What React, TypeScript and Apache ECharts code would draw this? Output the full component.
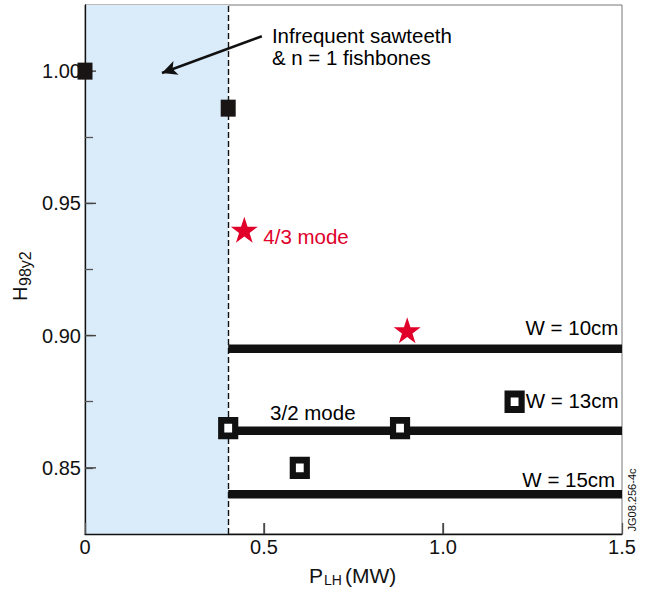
import React, { useEffect, useRef } from "react";
import * as echarts from "echarts";

const xRange = [0, 1.5];
const xInterval = 0.5;
const xInnerTicks = [0.5, 1.0];
const yRange = [0.825, 1.025];
const yTickStep = 0.025;
const yLabelStep = 0.05;
const yMajorTicks = [0.85, 0.9, 0.95, 1.0];
const shadeRange = [0, 0.4];
const thresholdX = 0.4;

const filledSquares = [
  [0, 1.0],
  [0.4, 0.986],
];
const openSquares = [
  [0.4, 0.865],
  [0.88, 0.865],
  [0.6, 0.85],
  [1.2, 0.875],
];
const stars = [
  [0.445, 0.94],
  [0.9, 0.902],
];
const w10Line = [
  [0.4, 0.895],
  [1.5, 0.895],
];
const w13Line = [
  [0.4, 0.864],
  [1.5, 0.864],
];
const w15Line = [
  [0.4, 0.84],
  [1.5, 0.84],
];
const annotations = [
  { text: "W = 10cm", x: 1.49, y: 0.903, align: "right", color: "#000" },
  { text: "W = 13cm", x: 1.231, y: 0.8753, align: "left", color: "#000" },
  { text: "W = 15cm", x: 1.481, y: 0.8456, align: "right", color: "#000" },
  { text: "3/2 mode", x: 0.517, y: 0.8711, align: "left", color: "#000" },
  { text: "4/3 mode", x: 0.498, y: 0.9375, align: "left", color: "#e0002a" },
  { text: "Infrequent sawteeth", x: 0.522, y: 1.0133, align: "left", color: "#000" },
  { text: "& n = 1 fishbones", x: 0.522, y: 1.0053, align: "left", color: "#000" },
];
const arrowFrom = [0.494, 1.0132];
const arrowTo = [0.215, 0.9993];

const STAR =
  "path://M50,0 L61.8,35.1 L98.9,35.1 L69,57.3 L80.3,92.7 L50,70.5 L19.7,92.7 L31,57.3 L1.1,35.1 L38.2,35.1 Z";
const FONT = "'Liberation Sans', Arial, Helvetica, sans-serif";

const CHART_W = 648;
const CHART_H = 590;
const GRID = { left: 85, right: 26, top: 5, bottom: 56 };
const TICK_PX = 11;

export default function App() {
  const ref = useRef<HTMLDivElement>(null);
  useEffect(() => {
    if (!ref.current) return;
    const chart = echarts.init(ref.current, null, { renderer: "svg" });
    const lineSeries = (data: number[][], name: string) => ({
      type: "line",
      name,
      data,
      symbol: "none",
      silent: true,
      z: 3,
      lineStyle: { color: "#111", width: 8.5, cap: "butt" },
    });
    const isMajor = (v: number) =>
      Math.abs(v / yLabelStep - Math.round(v / yLabelStep)) < 1e-6;
    const textEl = (
      id: string,
      x: number,
      y: number,
      text: string,
      fontSize: number,
      extra: any = {}
    ) => ({
      type: "text",
      id,
      x,
      y,
      ...extra,
      style: {
        text,
        fontSize,
        fontFamily: FONT,
        fill: "#111",
        align: extra.align || "left",
        verticalAlign: "middle",
      },
    });
    const baseGraphic: any[] = [
      {
        type: "group",
        id: "ytitle",
        x: 20,
        y: 301,
        rotation: Math.PI / 2,
        children: [
          textEl("yH", 0, 0, "H", 20),
          textEl("ySub", 15, 5, "98y2", 16),
        ],
      },
      textEl("xP", 309, 575, "P", 21),
      textEl("xSub", 324, 580, "LH", 14),
      textEl("xUnit", 345, 575, "(MW)", 21),
      textEl("jg", 632, 500, "JG08.256-4c", 11, {
        rotation: Math.PI / 2,
        align: "center",
      }),
    ];
    const option: any = {
      animation: false,
      backgroundColor: "#fff",
      textStyle: { fontFamily: FONT },
      grid: {
        ...GRID,
        containLabel: false,
        show: true,
        borderColor: "#777",
        borderWidth: 1,
        backgroundColor: "rgba(0,0,0,0)",
      },
      xAxis: {
        type: "value",
        position: "bottom",
        z: 2,
        min: xRange[0],
        max: xRange[1],
        interval: xInterval,
        splitLine: { show: false },
        axisLine: { show: true, onZero: false, lineStyle: { color: "#111", width: 1.3 } },
        axisTick: {
          show: true,
          inside: true,
          length: TICK_PX,
          lineStyle: { color: "#555", width: 1.3 },
        },
        axisLabel: {
          margin: 3,
          fontSize: 20,
          color: "#111",
          fontFamily: FONT,
          formatter: (v: number) => (v === 0 ? "0" : v.toFixed(1)),
        },
      },
      yAxis: {
        type: "value",
        z: 2,
        min: yRange[0],
        max: yRange[1],
        interval: yTickStep,
        splitLine: { show: false },
        axisLine: { show: true, onZero: false, lineStyle: { color: "#111", width: 1.3 } },
        axisTick: {
          show: true,
          inside: true,
          length: 8,
          lineStyle: { color: "#555", width: 1.3 },
        },
        axisLabel: {
          margin: 4,
          fontSize: 20,
          color: "#111",
          fontFamily: FONT,
          showMinLabel: false,
          showMaxLabel: false,
          formatter: (v: number) => (isMajor(v) ? v.toFixed(2) : ""),
        },
      },
      series: [
        {
          type: "line",
          name: "bg",
          data: [],
          symbol: "none",
          silent: true,
          z: 1,
          markArea: {
            silent: true,
            itemStyle: { color: "#daecfa" },
            data: [[{ xAxis: shadeRange[0] }, { xAxis: shadeRange[1] }]],
          },
        },
        {
          type: "line",
          name: "threshold",
          data: [],
          symbol: "none",
          silent: true,
          z: 3,
          markLine: {
            silent: true,
            symbol: "none",
            label: { show: false },
            lineStyle: { color: "#111", width: 1.4, type: [6, 3] },
            data: [{ xAxis: thresholdX }],
          },
        },
        lineSeries(w10Line, "W10"),
        lineSeries(w13Line, "W13"),
        lineSeries(w15Line, "W15"),
        {
          type: "scatter",
          name: "open",
          data: openSquares,
          symbol: "rect",
          symbolSize: [14, 15.5],
          z: 5,
          itemStyle: { color: "#fff", borderColor: "#111", borderWidth: 6.5, opacity: 1 },
        },
        {
          type: "scatter",
          name: "filled",
          data: filledSquares,
          symbol: "rect",
          symbolSize: [15, 17],
          z: 5,
          itemStyle: { color: "#1a1515", opacity: 1 },
        },
        {
          type: "scatter",
          name: "stars",
          data: stars,
          symbol: STAR,
          symbolSize: [27, 26],
          z: 5,
          itemStyle: { color: "#e0002a", opacity: 1 },
        },
        {
          type: "scatter",
          name: "notes",
          symbol: "circle",
          symbolSize: 1,
          silent: true,
          z: 6,
          itemStyle: { color: "rgba(0,0,0,0)", opacity: 1 },
          data: annotations.map((a) => ({
            value: [a.x, a.y],
            label: {
              show: true,
              position: "inside",
              formatter: a.text,
              align: a.align,
              verticalAlign: "middle",
              color: a.color,
              opacity: 1,
              textBorderWidth: 0,
              fontSize: 20.5,
              lineHeight: 20,
              fontFamily: FONT,
            },
          })),
          markLine: {
            silent: true,
            symbol: ["none", "arrow"],
            symbolSize: [11, 15],
            label: { show: false },
            lineStyle: { color: "#111", width: 2.5, type: "solid" },
            data: [[{ coord: arrowFrom }, { coord: arrowTo }]],
          },
        },
      ],
      graphic: baseGraphic,
    };
    chart.setOption(option);

    // Extra tick marks placed through the chart's own scales.
    const tickStyle = { stroke: "#444", lineWidth: 1.4 };
    const tickEls: any[] = [];
    xInnerTicks.forEach((v, i) => {
      const p = chart.convertToPixel({ gridIndex: 0 }, [v, yRange[0]]) as number[];
      if (p && isFinite(p[0]) && isFinite(p[1])) {
        tickEls.push({
          type: "line",
          id: "xt" + i,
          z: 50,
          silent: true,
          shape: { x1: p[0], y1: p[1], x2: p[0], y2: p[1] - TICK_PX },
          style: tickStyle,
        });
      }
    });
    yMajorTicks.forEach((v, i) => {
      const p = chart.convertToPixel({ gridIndex: 0 }, [xRange[0], v]) as number[];
      if (p && isFinite(p[0]) && isFinite(p[1])) {
        tickEls.push({
          type: "line",
          id: "yt" + i,
          z: 4,
          silent: true,
          shape: { x1: p[0], y1: p[1], x2: p[0] + TICK_PX, y2: p[1] },
          style: tickStyle,
        });
      }
    });
    chart.setOption({ graphic: baseGraphic.concat(tickEls) });
    return () => chart.dispose();
  }, []);
  return (
    <div
      ref={ref}
      style={{ position: "fixed", left: 0, top: 0, width: CHART_W, height: CHART_H }}
    />
  );
}
